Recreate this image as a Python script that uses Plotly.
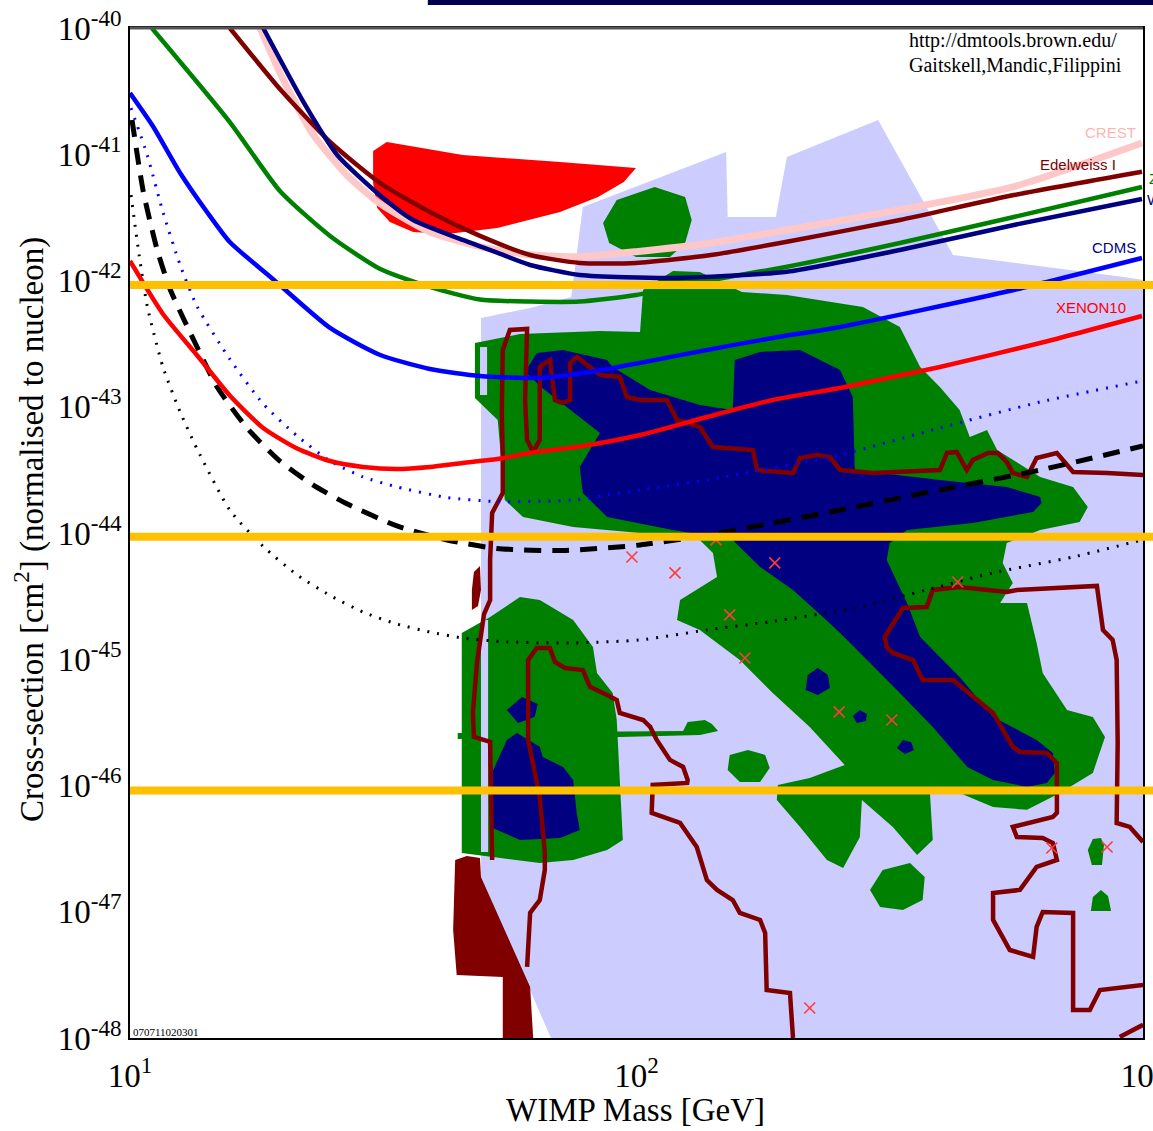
import plotly.graph_objects as go

# All values: log10(WIMP mass / GeV) and log10(cross-section / cm^2)

# ---------------- limit curves ----------------
crest_lm = [1.257, 1.296, 1.361, 1.428, 1.494, 1.592, 1.691, 1.790, 1.888, 1.999, 2.147, 2.297, 2.520, 2.745, 2.998]
crest_ls = [-40.000, -40.356, -40.840, -41.164, -41.392, -41.616, -41.731, -41.796, -41.811, -41.772, -41.703, -41.600, -41.441, -41.257, -40.911]

edel_lm = [1.197, 1.296, 1.395, 1.494, 1.592, 1.691, 1.790, 1.888, 1.999, 2.147, 2.297, 2.520, 2.745, 2.998]
edel_ls = [-40.000, -40.483, -40.903, -41.228, -41.457, -41.647, -41.798, -41.861, -41.861, -41.798, -41.693, -41.521, -41.323, -41.138]

zep_lm = [1.043, 1.197, 1.296, 1.395, 1.494, 1.592, 1.691, 1.790, 1.888, 1.999, 2.147, 2.297, 2.520, 2.745, 2.998]
zep_ls = [-40.000, -40.745, -41.291, -41.647, -41.909, -42.051, -42.151, -42.167, -42.167, -42.115, -41.996, -41.891, -41.703, -41.497, -41.259]

w_lm = [1.263, 1.342, 1.409, 1.494, 1.559, 1.657, 1.725, 1.790, 1.888, 2.072, 2.297, 2.520, 2.745, 2.998]
w_ls = [-40.000, -40.583, -41.006, -41.327, -41.521, -41.679, -41.780, -41.877, -41.956, -41.980, -41.930, -41.758, -41.560, -41.354]

cdms_lm = [1.000, 1.045, 1.099, 1.152, 1.197, 1.282, 1.395, 1.494, 1.592, 1.691, 1.809, 1.908, 2.006, 2.139, 2.269, 2.402, 2.745, 2.998]
cdms_ls = [-40.515, -40.776, -41.148, -41.457, -41.695, -41.988, -42.376, -42.590, -42.701, -42.756, -42.772, -42.725, -42.653, -42.550, -42.455, -42.368, -42.075, -41.822]

xe_lm = [1.000, 1.065, 1.132, 1.197, 1.263, 1.330, 1.395, 1.460, 1.527, 1.592, 1.657, 1.725, 1.790, 1.888, 2.007, 2.139, 2.269, 2.402, 2.599, 2.797, 2.998]
xe_ls = [-41.845, -42.265, -42.590, -42.911, -43.168, -43.331, -43.430, -43.477, -43.493, -43.477, -43.445, -43.414, -43.366, -43.315, -43.224, -43.081, -42.946, -42.851, -42.685, -42.495, -42.281]

dash_lm = [1.004, 1.026, 1.053, 1.079, 1.132, 1.172, 1.231, 1.296, 1.361, 1.428, 1.527, 1.626, 1.725, 1.855, 2.007, 2.139, 2.269, 2.402, 2.599, 2.797, 3.000]
dash_ls = [-40.729, -41.291, -41.747, -42.067, -42.523, -42.843, -43.168, -43.430, -43.619, -43.768, -43.944, -44.055, -44.123, -44.139, -44.095, -44.016, -43.921, -43.818, -43.659, -43.501, -43.311]

bdot_lm = [1.002, 1.034, 1.065, 1.099, 1.132, 1.197, 1.263, 1.330, 1.395, 1.460, 1.527, 1.626, 1.725, 1.875, 2.007, 2.139, 2.269, 2.402, 2.599, 2.797, 2.998]
bdot_ls = [-40.634, -41.006, -41.457, -41.877, -42.202, -42.622, -42.978, -43.231, -43.430, -43.556, -43.635, -43.719, -43.751, -43.739, -43.659, -43.580, -43.485, -43.382, -43.168, -42.962, -42.796]

kdot_lm = [1.002, 1.018, 1.034, 1.065, 1.099, 1.132, 1.197, 1.263, 1.330, 1.395, 1.460, 1.527, 1.592, 1.657, 1.744, 1.875, 2.007, 2.139, 2.263, 2.441, 2.573, 2.704, 2.862, 2.998]
kdot_ls = [-41.323, -41.798, -42.202, -42.685, -43.041, -43.331, -43.818, -44.107, -44.332, -44.495, -44.626, -44.721, -44.784, -44.832, -44.863, -44.871, -44.847, -44.768, -44.704, -44.586, -44.451, -44.316, -44.190, -44.055]

# ---------------- theory regions ----------------
lav_lm = [1.831, 1.693, 1.693, 1.790, 1.871, 1.894, 2.177, 2.180, 2.275, 2.297, 2.477, 2.625, 2.962, 3.000, 3.000]
lav_ls = [-48.000, -46.724, -42.297, -42.218, -42.131, -41.418, -40.982, -41.497, -41.497, -41.022, -40.729, -41.798, -41.972, -41.996, -48.000]

gtop_lm = [1.934, 1.961, 2.036, 2.096, 2.109, 2.096, 2.066, 1.999, 1.946]
gtop_ls = [-41.544, -41.362, -41.259, -41.338, -41.521, -41.703, -41.814, -41.814, -41.703]

gmain_lm = [1.681, 1.770, 1.928, 2.007, 2.013, 2.072, 2.125, 2.208, 2.297, 2.447, 2.520, 2.560, 2.599, 2.638, 2.658,
            2.692, 2.712, 2.797, 2.862, 2.891, 2.875, 2.797, 2.731, 2.723, 2.743, 2.718, 2.771, 2.790, 2.802, 2.850,
            2.901, 2.925, 2.901, 2.836, 2.771, 2.704, 2.638, 2.579, 2.585, 2.554, 2.506, 2.445, 2.441, 2.408, 2.376,
            2.323, 2.277, 2.279, 2.342, 2.411, 2.342, 2.269, 2.204, 2.125, 2.080, 2.086, 2.159, 2.151, 2.125, 2.007,
            1.875, 1.776, 1.740, 1.726, 1.681]
gmain_ls = [-42.495, -42.424, -42.400, -42.408, -42.075, -41.925, -41.933, -42.091, -42.115, -42.210, -42.368, -42.685, -42.843, -43.026, -43.239,
            -43.184, -43.342, -43.556, -43.635, -43.794, -43.913, -43.976, -44.079, -44.237, -44.396, -44.554, -44.554, -44.871, -45.109, -45.401,
            -45.457, -45.615, -45.900, -46.059, -46.193, -46.170, -46.059, -46.035, -46.431, -46.550, -46.328, -46.115, -46.408, -46.653, -46.590,
            -46.328, -46.115, -45.996, -45.940, -45.837, -45.536, -45.267, -45.006, -44.768, -44.689, -44.531, -44.348, -44.158, -44.055, -44.000,
            -43.952, -43.873, -43.739, -43.105, -42.930]

gleft_lm = [1.655, 1.711, 1.770, 1.809, 1.875, 1.914, 1.922, 1.953, 1.961, 1.967, 1.973, 1.942, 1.875, 1.809, 1.711, 1.655]
gleft_ls = [-44.792, -44.665, -44.507, -44.531, -44.689, -44.903, -45.109, -45.267, -45.481, -45.956, -46.431, -46.511, -46.590, -46.614, -46.566, -46.534]

gbar_lm = [1.647, 2.092, 2.101, 2.135, 2.149, 2.161, 2.125, 1.967, 1.647]
gbar_ls = [-45.584, -45.568, -45.497, -45.481, -45.513, -45.568, -45.600, -45.615, -45.631]

gs1_lm = [2.184, 2.220, 2.254, 2.263, 2.244, 2.204, 2.180]
gs1_ls = [-45.758, -45.719, -45.758, -45.861, -45.972, -45.972, -45.877]
gs2_lm = [2.461, 2.486, 2.540, 2.569, 2.565, 2.526, 2.481]
gs2_ls = [-46.827, -46.669, -46.614, -46.724, -46.907, -46.986, -46.962]
gs3_lm = [2.891, 2.901, 2.917, 2.923, 2.919, 2.899]
gs3_ls = [-46.511, -46.424, -46.416, -46.471, -46.629, -46.629]
gs4_lm = [2.897, 2.901, 2.917, 2.931, 2.937]
gs4_ls = [-46.994, -46.883, -46.827, -46.875, -46.994]

hole1_lm = [1.691, 1.705, 1.705, 1.691]
hole1_ls = [-42.527, -42.527, -42.907, -42.907]
hole2_lm = [1.693, 1.707, 1.707, 1.693]
hole2_ls = [-44.689, -44.689, -46.526, -46.526]

nmain_lm = [1.786, 1.786, 1.803, 1.855, 1.942, 1.953, 2.027, 2.125, 2.190, 2.194, 2.244, 2.323, 2.402, 2.427, 2.431,
            2.599, 2.731, 2.797, 2.800, 2.783, 2.664, 2.534, 2.500, 2.494, 2.534, 2.560, 2.638, 2.704, 2.790, 2.822,
            2.826, 2.810, 2.771, 2.704, 2.653, 2.585, 2.520, 2.441, 2.402, 2.368, 2.309, 2.244, 2.190, 2.072, 1.942,
            1.894, 1.888, 1.928, 1.869, 1.819]
nmain_ls = [-42.748, -42.685, -42.574, -42.550, -42.629, -42.685, -42.867, -42.986, -43.026, -42.629, -42.566, -42.550, -42.709, -42.923, -43.501,
            -43.580, -43.635, -43.714, -43.762, -43.833, -43.921, -43.976, -44.079, -44.214, -44.554, -44.824, -45.140, -45.457, -45.639, -45.742,
            -45.900, -45.980, -46.011, -45.956, -45.853, -45.536, -45.267, -44.950, -44.792, -44.665, -44.451, -44.269, -44.055, -43.976, -43.873,
            -43.683, -43.477, -43.208, -43.026, -42.867]

nb1_lm = [2.338, 2.358, 2.378, 2.382, 2.358, 2.334]
nb1_ls = [-45.124, -45.069, -45.124, -45.227, -45.283, -45.243]
nb2_lm = [2.427, 2.441, 2.455, 2.453, 2.435]
nb2_ls = [-45.449, -45.401, -45.433, -45.489, -45.505]
nb3_lm = [2.514, 2.526, 2.542, 2.548, 2.530]
nb3_ls = [-45.703, -45.639, -45.655, -45.719, -45.750]
nb4_lm = [1.744, 1.774, 1.805, 1.799, 1.766]
nb4_ls = [-45.401, -45.299, -45.354, -45.457, -45.505]
nb5_lm = [1.711, 1.744, 1.764, 1.809, 1.815, 1.855, 1.875, 1.882, 1.888, 1.849, 1.770, 1.711]
nb5_ls = [-45.932, -45.639, -45.584, -45.694, -45.774, -45.853, -45.956, -46.217, -46.352, -46.416, -46.431, -46.328]

dama_lm = [1.480, 1.480, 1.507, 1.657, 1.849, 1.999, 1.975, 1.924, 1.849, 1.725, 1.626, 1.559, 1.513, 1.488]
dama_ls = [-41.228, -40.974, -40.903, -41.006, -41.061, -41.109, -41.220, -41.338, -41.457, -41.584, -41.632, -41.616, -41.536, -41.426]

mfill1_lm = [1.642, 1.665, 1.691, 1.693, 1.790, 1.796, 1.736, 1.736, 1.645, 1.638]
mfill1_ls = [-46.590, -46.558, -46.574, -46.724, -47.596, -48.000, -48.000, -47.516, -47.501, -47.144]
mfill2_lm = [1.679, 1.691, 1.693, 1.687, 1.675, 1.675]
mfill2_ls = [-44.309, -44.261, -44.451, -44.578, -44.610, -44.451]

m1_lm = [1.715, 1.711, 1.679, 1.677, 1.685, 1.699, 1.711, 1.711, 1.715, 1.730, 1.736, 1.736, 1.734, 1.736, 1.750,
         1.784, 1.780, 1.784, 1.796, 1.809, 1.809, 1.829, 1.839, 1.853, 1.869, 1.869, 1.882, 1.908, 1.928, 1.967,
         1.981, 2.007, 2.060, 2.080, 2.125, 2.151, 2.230, 2.238, 2.309, 2.323, 2.356, 2.382, 2.402, 2.467, 2.599,
         2.613, 2.632, 2.652, 2.664, 2.694, 2.713, 2.731, 2.743, 2.771, 2.790, 2.830, 2.862, 2.929, 3.000]
m1_ls = [-46.590, -45.655, -45.615, -45.425, -45.030, -44.642, -44.531, -44.214, -43.841, -43.739, -43.683, -43.398, -43.049, -42.550, -42.392,
         -42.384, -42.947, -43.263, -43.358, -43.263, -42.685, -42.629, -42.947, -42.970, -42.947, -42.653, -42.606, -42.685, -42.748, -42.764,
         -42.923, -42.947, -42.947, -43.105, -43.160, -43.319, -43.343, -43.501, -43.525, -43.406, -43.382, -43.398, -43.501, -43.525, -43.501,
         -43.366, -43.358, -43.501, -43.422, -43.366, -43.366, -43.437, -43.525, -43.556, -43.406, -43.366, -43.517, -43.525, -43.541]

m2_lm = [1.784, 1.790, 1.809, 1.819, 1.819, 1.809, 1.786, 1.786, 1.803, 1.829, 1.839, 1.859, 1.894, 1.908, 1.942,
         1.961, 1.967, 2.013, 2.027, 2.040, 2.066, 2.092, 2.101, 2.100, 2.032, 2.030, 2.086, 2.119, 2.139, 2.159,
         2.190, 2.204, 2.244, 2.254, 2.257, 2.303, 2.309]
m2_ls = [-47.437, -47.009, -46.907, -46.669, -46.534, -46.091, -45.639, -45.006, -44.911, -44.911, -45.022, -45.069, -45.085, -45.219, -45.283,
         -45.323, -45.425, -45.481, -45.536, -45.639, -45.797, -45.853, -45.956, -45.980, -45.996, -46.217, -46.297, -46.487, -46.749, -46.827,
         -46.907, -47.009, -47.065, -47.168, -47.620, -47.643, -48.000]

m3_lm = [3.000, 2.974, 2.948, 2.950, 2.948, 2.940, 2.921, 2.915, 2.909, 2.751, 2.731, 2.638, 2.585, 2.573, 2.526,
         2.490, 2.494, 2.506, 2.546, 2.565, 2.625, 2.704, 2.743, 2.757, 2.810, 2.830, 2.830, 2.822, 2.771, 2.743,
         2.751, 2.802, 2.822, 2.830, 2.790, 2.757, 2.704, 2.704, 2.737, 2.783, 2.790, 2.802, 2.862, 2.862, 2.895,
         2.915, 3.000]
m3_ls = [-46.447, -46.328, -46.297, -45.663, -45.006, -44.847, -44.768, -44.610, -44.419, -44.451, -44.467, -44.427, -44.451, -44.586, -44.594,
         -44.824, -44.903, -44.950, -45.006, -45.164, -45.164, -45.425, -45.694, -45.734, -45.742, -45.821, -46.217, -46.249, -46.297, -46.328,
         -46.408, -46.416, -46.455, -46.590, -46.645, -46.827, -46.851, -47.065, -47.303, -47.358, -47.120, -47.002, -47.009, -47.778, -47.778,
         -47.620, -47.580]

m4_lm = [2.954, 3.000]
m4_ls = [-47.992, -47.896]

# candidate points (red crosses)
pts_lm = [1.991, 2.076, 2.157, 2.273, 2.184, 2.214, 2.400, 2.504, 2.634, 2.820, 2.929, 2.342]
pts_ls = [-44.190, -44.316, -44.055, -44.237, -44.649, -44.990, -45.417, -45.481, -44.388, -46.495, -46.487, -47.762]

# orange reference levels
level_ls = [-42.036, -44.030, -46.040]

# axis ticks
xtick_exp = [1, 2, 3]
ytick_exp = [-48, -47, -46, -45, -44, -43, -42, -41, -40]


def P(a):
    return [10 ** v for v in a]


fig = go.Figure()


def region(lm, ls, color):
    fig.add_trace(go.Scatter(x=P(lm), y=P(ls), mode="lines", fill="toself", fillcolor=color,
                             line=dict(width=0, color=color), hoverinfo="skip", showlegend=False))


def curve(lm, ls, color, width, dash="solid", shape="spline"):
    fig.add_trace(go.Scatter(x=P(lm), y=P(ls), mode="lines",
                             line=dict(color=color, width=width, dash=dash, shape=shape, smoothing=0.6),
                             hoverinfo="skip", showlegend=False))


LAV = "#CCCCFF"
GRN = "#008000"
NAV = "#000080"
MAR = "#800000"

region(lav_lm, lav_ls, LAV)
for lm, ls in [(gtop_lm, gtop_ls), (gmain_lm, gmain_ls), (gleft_lm, gleft_ls), (gbar_lm, gbar_ls),
               (gs1_lm, gs1_ls), (gs2_lm, gs2_ls), (gs3_lm, gs3_ls), (gs4_lm, gs4_ls)]:
    region(lm, ls, GRN)
region(hole1_lm, hole1_ls, LAV)
region(hole2_lm, hole2_ls, LAV)
for lm, ls in [(nmain_lm, nmain_ls), (nb1_lm, nb1_ls), (nb2_lm, nb2_ls), (nb3_lm, nb3_ls),
               (nb4_lm, nb4_ls), (nb5_lm, nb5_ls)]:
    region(lm, ls, NAV)
region(dama_lm, dama_ls, "#FF0000")
region(mfill1_lm, mfill1_ls, MAR)
region(mfill2_lm, mfill2_ls, MAR)
for lm, ls in [(m1_lm, m1_ls), (m2_lm, m2_ls), (m3_lm, m3_ls), (m4_lm, m4_ls)]:
    curve(lm, ls, MAR, 4.5, shape="linear")

curve(kdot_lm, kdot_ls, "#000000", 3, dash="2px,8px")
curve(bdot_lm, bdot_ls, "#0000FF", 3, dash="2px,8px")
curve(dash_lm, dash_ls, "#000000", 5, dash="17px,11px")
curve(crest_lm, crest_ls, "#FFC8C8", 7)
curve(edel_lm, edel_ls, MAR, 4.5)
curve(zep_lm, zep_ls, GRN, 4.5)
curve(w_lm, w_ls, NAV, 4.5)
curve(cdms_lm, cdms_ls, "#0000FF", 4.5)
curve(xe_lm, xe_ls, "#FF0000", 4.5)

fig.add_trace(go.Scatter(x=P(pts_lm), y=P(pts_ls), mode="markers",
                         marker=dict(symbol="x-thin", size=11, line=dict(width=1.6, color="#FF3B3B")),
                         hoverinfo="skip", showlegend=False))

shapes = []
for lv in level_ls:
    shapes.append(dict(type="line", xref="paper", yref="y", x0=0, x1=1.02, y0=10 ** lv, y1=10 ** lv,
                       line=dict(color="#FFC000", width=8), layer="above"))
shapes.append(dict(type="rect", xref="paper", yref="paper", x0=0.294, x1=1.02, y0=1.0228, y1=1.04,
                   fillcolor="#000050", line=dict(width=0), layer="above"))
shapes.append(dict(type="line", xref="paper", yref="paper", x0=0, x1=1, y0=1, y1=1,
                   line=dict(color="#555555", width=3), layer="above"))

SERIF = "Liberation Serif, Times New Roman, serif"
SANS = "Liberation Sans, Arial, sans-serif"

annotations = [
    dict(text="Cross-section [cm<sup>2</sup>] (normalised to nucleon)", x=-0.0987, y=0.503,
         xref="paper", yref="paper", textangle=-90, xanchor="center", yanchor="middle", showarrow=False,
         font=dict(family=SERIF, size=33, color="black")),
    dict(text="WIMP Mass [GeV]", x=0.4995, y=-0.0713, xref="paper", yref="paper",
         xanchor="center", yanchor="middle", showarrow=False, font=dict(family=SERIF, size=33, color="black")),
    dict(text="http://dmtools.brown.edu/", x=0.767, y=0.988, xref="paper", yref="paper",
         xanchor="left", yanchor="middle", showarrow=False, font=dict(family=SERIF, size=20, color="black")),
    dict(text="Gaitskell,Mandic,Filippini", x=0.767, y=0.963, xref="paper", yref="paper",
         xanchor="left", yanchor="middle", showarrow=False, font=dict(family=SERIF, size=20, color="black")),
    dict(text="070711020301", x=0.001, y=0.006, xref="paper", yref="paper",
         xanchor="left", yanchor="middle", showarrow=False, font=dict(family=SERIF, size=11, color="black")),
    dict(text="CREST", x=0.995, y=0.897, xref="paper", yref="paper", xanchor="right", yanchor="middle",
         showarrow=False, font=dict(family=SANS, size=15, color="#FFB4B4")),
    dict(text="Edelweiss I", x=0.975, y=0.865, xref="paper", yref="paper", xanchor="right", yanchor="middle",
         showarrow=False, font=dict(family=SANS, size=15, color=MAR)),
    dict(text="Z", x=1.004, y=0.851, xref="paper", yref="paper", xanchor="left", yanchor="middle",
         showarrow=False, font=dict(family=SANS, size=15, color=GRN)),
    dict(text="W", x=1.002, y=0.830, xref="paper", yref="paper", xanchor="left", yanchor="middle",
         showarrow=False, font=dict(family=SANS, size=15, color=NAV)),
    dict(text="CDMS", x=0.995, y=0.783, xref="paper", yref="paper", xanchor="right", yanchor="middle",
         showarrow=False, font=dict(family=SANS, size=15, color=NAV)),
    dict(text="XENON10", x=0.985, y=0.723, xref="paper", yref="paper", xanchor="right", yanchor="middle",
         showarrow=False, font=dict(family=SANS, size=15, color="#FF0000")),
]

fig.update_layout(
    width=1153, height=1131,
    margin=dict(l=130, r=10, t=28, b=93),
    paper_bgcolor="white", plot_bgcolor="white",
    showlegend=False,
    shapes=shapes,
    annotations=annotations,
    xaxis=dict(type="log", range=[1, 3], showgrid=False, zeroline=False, automargin=False,
               tickvals=[10 ** e for e in xtick_exp],
               ticktext=["10<sup>%d</sup>" % e for e in xtick_exp],
               ticks="", showline=True, linecolor="black", linewidth=1.5, mirror=True,
               ticklabelstandoff=8, ticklabeloverflow="allow",
               tickfont=dict(family=SERIF, size=33, color="black")),
    yaxis=dict(type="log", range=[-48, -40], showgrid=False, zeroline=False, automargin=False,
               tickvals=[10 ** e for e in ytick_exp],
               ticktext=["10<sup>%d</sup>" % e for e in ytick_exp],
               ticks="", showline=True, linecolor="black", linewidth=1.5, mirror=True,
               ticklabeloverflow="allow",
               tickfont=dict(family=SERIF, size=33, color="black")),
)

fig.write_html("out.html", config={"displayModeBar": False},
               post_script="document.body.style.margin='0px';document.body.style.overflow='hidden';")
